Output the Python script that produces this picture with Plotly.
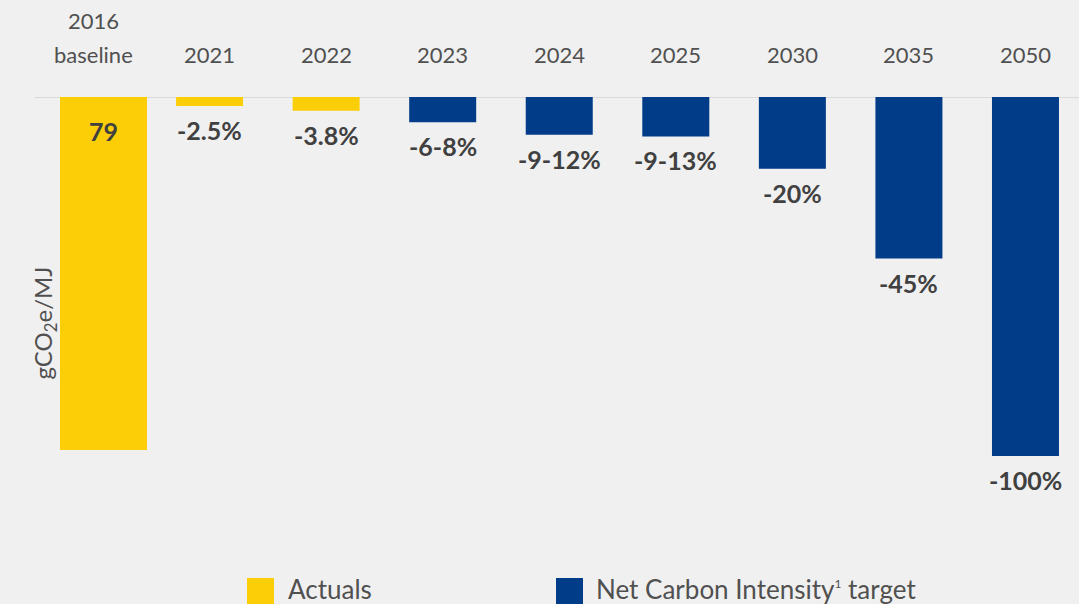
import plotly.graph_objects as go

# ---- data ----
categories = ["2016<br>baseline", "2021", "2022", "2023", "2024", "2025", "2030", "2035", "2050"]
series = ["Actuals", "Actuals", "Actuals", "Target", "Target", "Target", "Target", "Target", "Target"]
bar_depth = [98.3, 2.5, 3.8, 7, 10.5, 11, 20, 45, 100]   # % reduction (baseline bar drawn ~ full scale)
value_labels = ["79", "-2.5%", "-3.8%", "-6-8%", "-9-12%", "-9-13%", "-20%", "-45%", "-100%"]
legend_names = ["Actuals", "Net Carbon Intensity<sup><span style='font-size:12px'>1</span></sup> target"]

YELLOW = "#FBCE07"
BLUE = "#003C88"
TEXT = "#404040"
LABEL = "#505050"
BG = "#F0F0F0"
FONT = "Lato"

W, H = 1079, 604
T, B = 97, 104
plot_h = H - T - B
px_per_unit = 359 / 100.0
ymax = plot_h / px_per_unit

spacing = 116.56
x0_px = 93
xmin = -x0_px / spacing
xmax = (W - x0_px) / spacing

xs = list(range(len(categories)))
widths = [87 / spacing if i == 0 else 67 / spacing for i in xs]
offsets = [-33 / spacing if i == 0 else -w / 2 for i, w in zip(xs, widths)]
centers = [x + o + w / 2 for x, o, w in zip(xs, offsets, widths)]


def py(p):
    return (H - B - p) / plot_h


fig = go.Figure()
for name, key, color in [(legend_names[0], "Actuals", YELLOW), (legend_names[1], "Target", BLUE)]:
    idx = [i for i, s in enumerate(series) if s == key]
    fig.add_trace(go.Bar(
        x=[xs[i] for i in idx],
        y=[bar_depth[i] for i in idx],
        width=[widths[i] for i in idx],
        offset=[offsets[i] for i in idx],
        marker=dict(color=color, line=dict(width=0)),
        name=name,
        showlegend=False,
        hoverinfo="skip",
    ))

# category labels (top)
for i, cat in enumerate(categories):
    lines = cat.split("<br>")
    rows = [55 - 35 * (len(lines) - 1 - k) for k in range(len(lines))]
    for line, row in zip(lines, rows):
        fig.add_annotation(x=xs[i], xref="x", yref="paper", y=py(row), text=line,
                           showarrow=False, yanchor="middle",
                           font=dict(family=FONT, size=22, color=LABEL))

# value labels
for i, lab in enumerate(value_labels):
    if i == 0:
        fig.add_annotation(x=centers[i], y=0, yref="y", text=f"<b>{lab}</b>", showarrow=False,
                           yanchor="middle", yshift=-34,
                           font=dict(family=FONT, size=25, color=TEXT))
    else:
        fig.add_annotation(x=centers[i], y=bar_depth[i], text=f"<b>{lab}</b>", showarrow=False,
                           yanchor="top", yshift=-7,
                           font=dict(family=FONT, size=25, color=TEXT))

# top rule line
fig.add_shape(type="line", xref="paper", yref="y", x0=35 / W, x1=1, y0=0, y1=0,
              line=dict(color="#DADADA", width=2), layer="below")

# y-axis title
fig.add_annotation(xref="paper", yref="paper", x=25 / W, y=py(323),
                   text="gCO<sub>2</sub>e/MJ", textangle=-90, showarrow=False,
                   font=dict(family=FONT, size=24, color=LABEL))

# legend (manual)
legend_items = [(247, YELLOW, legend_names[0], 286), (556, BLUE, legend_names[1], 594)]
for x_sq, col, name, x_txt in legend_items:
    fig.add_shape(type="rect", xref="paper", yref="paper",
                  x0=x_sq / W, x1=(x_sq + 27) / W, y0=py(604), y1=py(578),
                  fillcolor=col, line=dict(width=0))
    fig.add_annotation(xref="paper", yref="paper", x=x_txt / W, y=py(589),
                       text=name, showarrow=False, xanchor="left", yanchor="middle",
                       font=dict(family=FONT, size=26, color=LABEL))

fig.update_layout(
    width=W, height=H,
    margin=dict(l=0, r=0, t=T, b=B),
    paper_bgcolor=BG, plot_bgcolor=BG,
    barmode="overlay",
    xaxis=dict(range=[xmin, xmax], showgrid=False, zeroline=False, showline=False,
               showticklabels=False, ticks=""),
    yaxis=dict(range=[ymax, 0], showgrid=False, zeroline=False, showline=False,
               showticklabels=False, ticks=""),
    showlegend=False,
)

fig.write_html("out.html", config={"displayModeBar": False},
               post_script="document.body.style.margin='0px';document.body.style.overflow='hidden';")
